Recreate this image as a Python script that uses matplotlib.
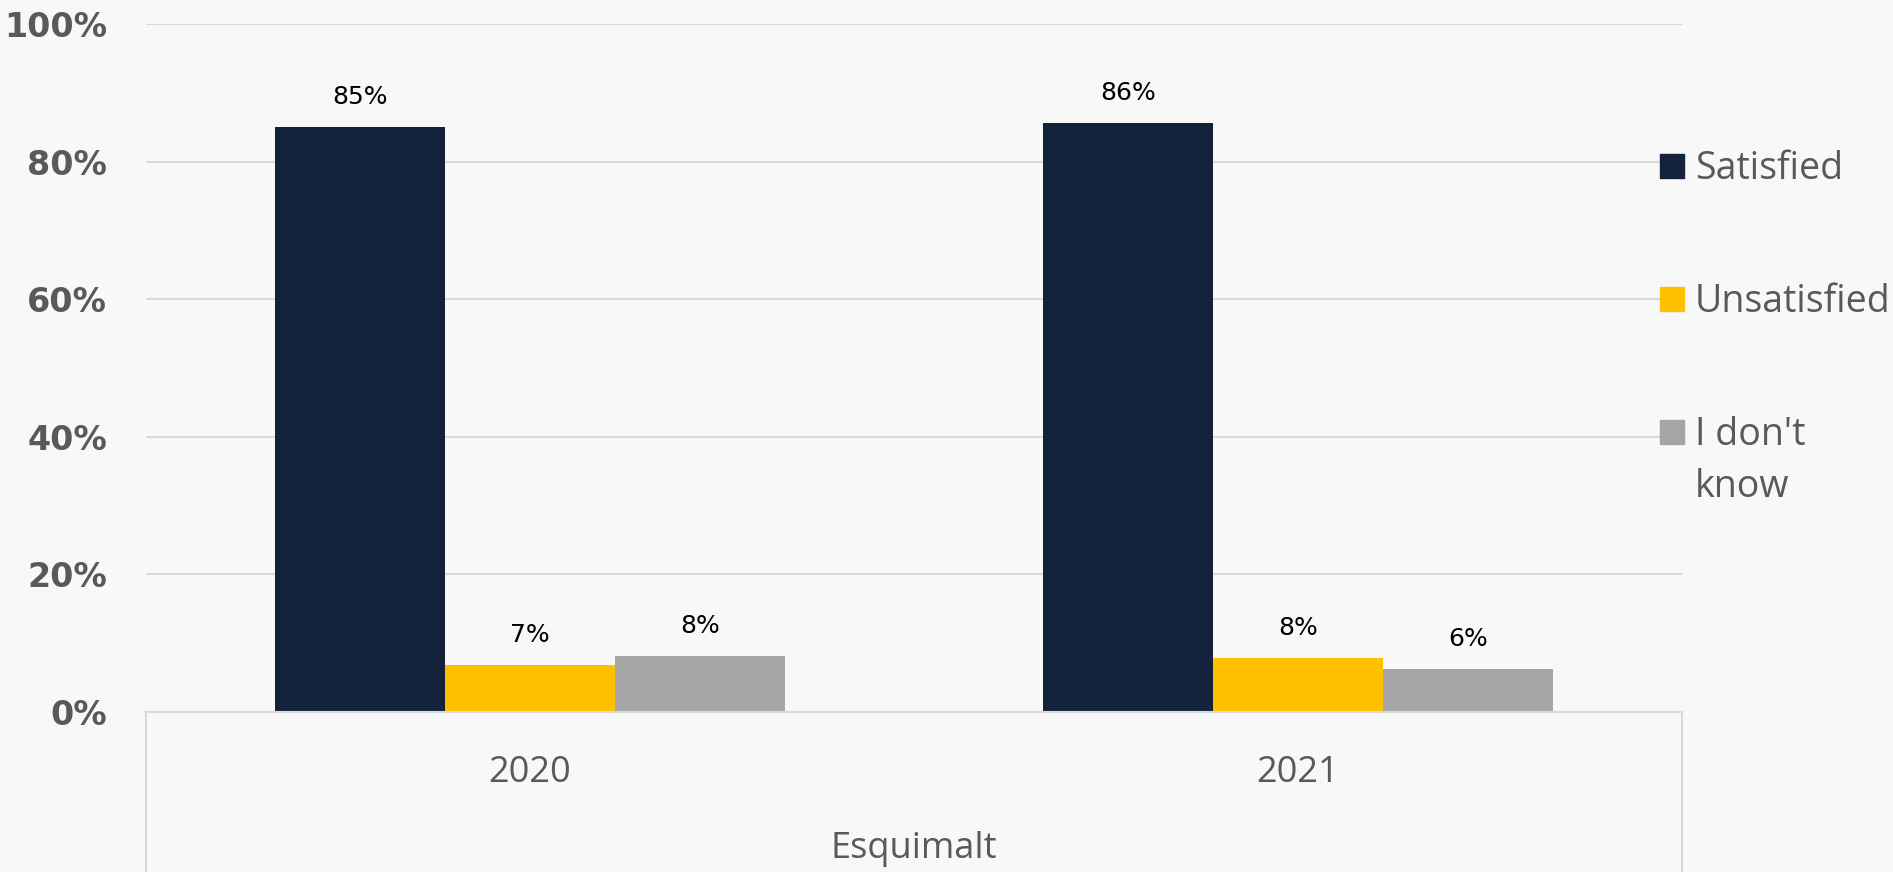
import matplotlib
matplotlib.use('Agg')
import numpy as np
import matplotlib.pyplot as plt
import matplotlib.transforms as mtransforms
from matplotlib.patches import Rectangle

# data
years = ['2020', '2021']
group_label = 'Esquimalt'
series = ['Satisfied', 'Unsatisfied', "I don't\nknow"]
satisfied = [0.85, 0.856]
unsatisfied = [0.068, 0.079]
dont_know = [0.082, 0.063]
yticks = [0, 0.2, 0.4, 0.6, 0.8, 1.0]
ytick_labels = ['0%', '20%', '40%', '60%', '80%', '100%']

colors = ['#14233C', '#FFC000', '#A5A5A5']
bg = '#F8F8F8'
grid_c = '#D9D9D9'
txt_c = '#595959'

W, H = 1893, 872
fig = plt.figure(figsize=(W / 100, H / 100), dpi=100, facecolor=bg)
ax = fig.add_axes([146 / W, 1 - 712 / H, (1682 - 146) / W, (712 - 24) / H])
ax.set_facecolor(bg)

x = np.arange(len(years))
width = 0.2214
vals = [satisfied, unsatisfied, dont_know]
for i, (v, c) in enumerate(zip(vals, colors)):
    bars = ax.bar(x + (i - 1) * width, v, width, color=c, zorder=3)
    for b, val in zip(bars, v):
        ax.annotate(f'{val * 100:.0f}%', (b.get_x() + b.get_width() / 2, val),
                    xytext=(0, 13), textcoords='offset points',
                    ha='center', va='bottom', fontsize=18, color='black',
                    family='DejaVu Sans')

ax.set_xlim(-0.5, 1.5)
ax.set_ylim(0, 1.0)
ax.set_yticks(yticks)
ax.set_yticklabels(ytick_labels, fontsize=24, fontweight='bold', color=txt_c,
                   family='DejaVu Sans')
ax.tick_params(axis='y', length=0, pad=28)
ax.tick_params(axis='x', length=0, bottom=False, labelbottom=False)
ax.grid(axis='y', color=grid_c, lw=1.5, zorder=0)
for s in ax.spines.values():
    s.set_visible(False)

# category axis box below the plot
ybot = -(H - 712) / (712 - 24)
ax.plot([0, 1], [0, 0], transform=ax.transAxes, color=grid_c, lw=1.5, clip_on=False, zorder=4)
ax.plot([0, 0], [0, ybot], transform=ax.transAxes, color=grid_c, lw=1.5, clip_on=False)
ax.plot([1, 1], [0, ybot], transform=ax.transAxes, color=grid_c, lw=1.5, clip_on=False)

trans = mtransforms.blended_transform_factory(ax.transData, fig.transFigure)
for xi, yr in zip(x, years):
    ax.text(xi, 1 - 773 / H, yr, transform=trans,
            ha='center', va='center', fontsize=26, color=txt_c, family='Open Sans')
fig.text((146 + 1682) / 2 / W, 1 - 849 / H, group_label, ha='center', va='center',
         fontsize=26, color=txt_c, family='Open Sans')

# legend
leg_y = [166, 299, 432]
for lab, c, yy in zip(series, colors, leg_y):
    fig.add_artist(Rectangle((1660 / W, 1 - (yy + 12) / H), 24 / W, 24 / H,
                             transform=fig.transFigure, color=c))
    fig.text(1695 / W, 1 - (yy - 16) / H, lab, ha='left', va='top',
             fontsize=27, color=txt_c, family='Open Sans', linespacing=1.48)

fig.savefig('out.png', dpi=100, facecolor=bg)
